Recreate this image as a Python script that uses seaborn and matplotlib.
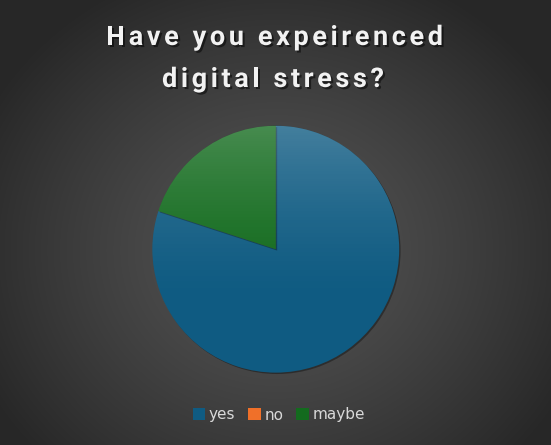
import numpy as np
import pandas as pd
import matplotlib
matplotlib.use("Agg")
import matplotlib.pyplot as plt
import matplotlib.patheffects as pe
from matplotlib.font_manager import FontProperties
from matplotlib.textpath import TextToPath
from matplotlib.patches import Patch, Circle
import seaborn as sns

# survey answers (share of respondents)
answers = ["yes", "no", "maybe"]
shares = [80, 0, 20]
colors = ["#0f5b82", "#f07029", "#136b1e"]
title_lines = ["Have you expeirenced", "digital stress?"]

sns.set_theme(style="dark")
plt.rcParams["font.family"] = ["DejaVu Sans"]

df = pd.DataFrame({"answer": answers, "share": shares})

W, H = 551, 445
fig = plt.figure(figsize=(W / 100, H / 100), dpi=100)

# radial dark background
bg = fig.add_axes([0, 0, 1, 1])
yy, xx = np.mgrid[0:H, 0:W]
r = np.sqrt(((xx - 276) / 330.0) ** 2 + ((yy - 250) / 300.0) ** 2)
r = np.clip(r, 0, 1)
c0, c1 = 0x54 / 255, 0x27 / 255
shade = c0 + (c1 - c0) * r ** 1.3
bg.imshow(np.dstack([shade, shade, shade]), extent=[0, 1, 0, 1], aspect="auto")
bg.axis("off")

ax = fig.add_axes([0.272, 0.157, 0.457, 0.566])
wedges, _ = ax.pie(df["share"], colors=colors, startangle=90, counterclock=False,
                   radius=1, wedgeprops=dict(linewidth=0))
for w in wedges:
    w.set_path_effects([pe.SimplePatchShadow(offset=(1, -1), alpha=0.35, shadow_rgbFace="black"),
                        pe.Normal()])

# soft light at the top of the pie
t = np.linspace(0, 1, 256)
alpha = 0.22 * np.clip(1 - t / 0.75, 0, 1) ** 1.6
img = np.zeros((256, 2, 4))
img[..., :3] = 1
img[..., 3] = alpha[:, None]
im = ax.imshow(img, extent=[-1, 1, -1, 1], aspect="auto", zorder=3)
im.set_clip_path(Circle((0, 0), 1, transform=ax.transData))
ax.set_xlim(-1.02, 1.02)
ax.set_ylim(-1.02, 1.02)
ax.set_aspect("equal")
ax.axis("off")

# title with letter spacing: one text per character
fp = FontProperties(family=["Roboto", "DejaVu Sans"], weight="bold", size=19.5)
t2p = TextToPath()
px = fig.dpi / 72.0


def char_widths(line):
    return [t2p.get_text_width_height_descent(ch, fp, ismath=False)[0] * px for ch in line]


w1 = char_widths(title_lines[0])
spacing = max((337.0 - sum(w1)) / (len(title_lines[0]) - 1), 0.5)

shadow = [pe.withSimplePatchShadow(offset=(1.5, -1.5), alpha=0.5, shadow_rgbFace="black")]
for line, base, xc in zip(title_lines, [45, 87], [274.5, 273.0]):
    widths = char_widths(line)
    total = sum(widths) + spacing * (len(line) - 1)
    x = xc - total / 2
    for ch, cw in zip(line, widths):
        fig.text(x / W, 1 - base / H, ch, ha="left", va="baseline", fontproperties=fp,
                 color="#f2f2f2", path_effects=shadow)
        x += cw + spacing

handles = [Patch(facecolor=c, edgecolor="none") for c in colors]
leg = fig.legend(handles, answers, loc="center", bbox_to_anchor=(0.506, 1 - 415 / 445),
                 ncol=3, frameon=False, fontsize=11, handlelength=0.8, handleheight=0.8,
                 handletextpad=0.25, columnspacing=0.85)
for tx in leg.get_texts():
    tx.set_color("#d9d9d9")

fig.savefig("out.png", dpi=100)
